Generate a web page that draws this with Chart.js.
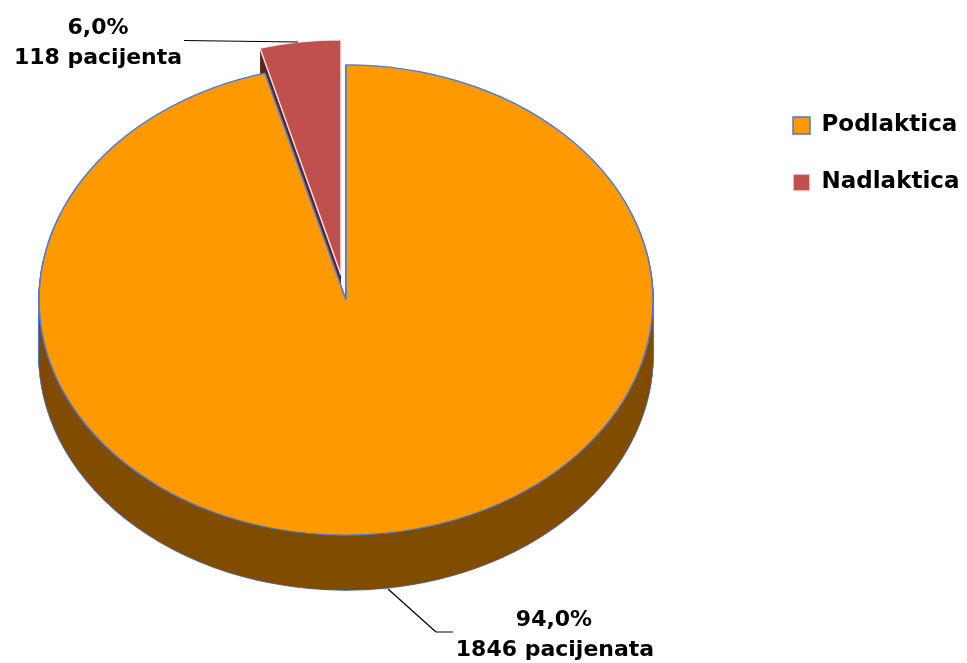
<!DOCTYPE html>
<html>
<head>
<meta charset="utf-8">
<style>
  html, body { margin: 0; padding: 0; background: #ffffff; }
  #wrap { width: 967px; height: 663px; }
</style>
<script src="https://cdn.jsdelivr.net/npm/chart.js@4/dist/chart.umd.js"></script>
</head>
<body>
<div id="wrap"><canvas id="chart_pie" width="967" height="663"></canvas></div>
<script>
/* ------------------
  data
-------------------*/
var categories = ['Podlaktica', 'Nadlaktica'];
var patients = [1846, 118];
var percentLabels = ['94,0%', '6,0%'];
var patientLabels = ['1846 pacijenata', '118 pacijenta'];
// share of the circle as it is drawn in the picture, the red slice is
// narrower there (about 15 degrees) than its 6,0% label says
var drawnShares = [95.75, 4.25];

/* ------------------
  look of the fake 3d pie
-------------------*/
var topColors = ['#ff9900', '#c0504d'];
var sideColors = ['#804d00', '#5a2524'];
var edgeColors = ['#4a78e0', 'rgba(255,240,240,0.9)'];
var pieCenter = { x: 346, y: 300 };
var pieRadius = 307;
var squash = 0.766;
var depth = 55;
var sliceShift = [{ x: 0, y: 0 }, { x: -5, y: -25 }];
var labelFont = 'bold 22px "DejaVu Sans"';

function drawArc(ctx, arc, fill, stroke, width) {
  var saved = arc.options;
  arc.options = Object.assign({}, saved, { backgroundColor: fill, borderColor: stroke, borderWidth: width });
  arc.draw(ctx);
  arc.options = saved;
}

// puts the flat pie on its side, then shifts by screen pixels
function tilt(ctx, arc, shiftX, shiftY) {
  ctx.translate(pieCenter.x + shiftX, pieCenter.y + shiftY);
  ctx.scale(1, squash);
  ctx.translate(-arc.x, -arc.y);
}

var pie3d = {
  id: 'pie3d',
  afterLayout: function (chart) {
    // legend sits where the picture has it
    var legend = chart.legend;
    legend.left = 759;
    legend.right = 967;
    legend.top = 80;
    legend.bottom = 663;
  },
  beforeDatasetsDraw: function (chart) {
    var ctx = chart.ctx;
    var arcs = chart.getDatasetMeta(0).data;
    var d, i;

    // side of the red slice first, the orange pie covers most of it
    for (d = depth; d > 0; d--) {
      ctx.save();
      tilt(ctx, arcs[1], sliceShift[1].x, sliceShift[1].y + d);
      drawArc(ctx, arcs[1], sideColors[1], sideColors[1], 0);
      ctx.restore();
    }

    // blue outline of the orange side, then the brown fill on top of it
    for (d = depth; d > 0; d--) {
      ctx.save();
      tilt(ctx, arcs[0], 0, d);
      drawArc(ctx, arcs[0], edgeColors[0], edgeColors[0], 1.5);
      ctx.restore();
    }
    for (d = depth; d > 0; d--) {
      ctx.save();
      tilt(ctx, arcs[0], 0, d);
      drawArc(ctx, arcs[0], sideColors[0], sideColors[0], 0);
      ctx.restore();
    }

    // top faces
    for (i = 0; i < arcs.length; i++) {
      ctx.save();
      tilt(ctx, arcs[i], sliceShift[i].x, sliceShift[i].y);
      drawArc(ctx, arcs[i], topColors[i], edgeColors[i], 1.5);
      ctx.restore();
    }
    return false;
  },
  afterDraw: function (chart) {
    var ctx = chart.ctx;
    ctx.save();

    // leader lines
    ctx.lineWidth = 1.2;
    ctx.strokeStyle = '#000000';
    ctx.beginPath();
    ctx.moveTo(184, 40.5);
    ctx.lineTo(298, 42);
    ctx.stroke();
    ctx.beginPath();
    ctx.moveTo(388, 589);
    ctx.lineTo(436, 632);
    ctx.stroke();
    ctx.lineWidth = 2;
    ctx.strokeStyle = '#808080';
    ctx.beginPath();
    ctx.moveTo(436, 632);
    ctx.lineTo(453, 632);
    ctx.stroke();

    // data labels
    ctx.fillStyle = '#000000';
    ctx.font = labelFont;
    ctx.textAlign = 'center';
    ctx.textBaseline = 'alphabetic';
    ctx.fillText(percentLabels[1], 98, 34);
    ctx.fillText(patientLabels[1], 98, 64);
    ctx.fillText(percentLabels[0], 554, 626);
    ctx.fillText(patientLabels[0], 555, 656);
    ctx.restore();
  }
};

var chart_pie = new Chart(document.getElementById('chart_pie'), {
  type: 'pie',
  plugins: [pie3d],
  data: {
    labels: categories,
    datasets: [
      {
        label: 'Pacijenti',
        data: drawnShares,
        backgroundColor: topColors,
        borderColor: edgeColors,
        borderWidth: 1.5
      }
    ]
  },
  options: {
    responsive: false,
    animation: false,
    radius: pieRadius,
    plugins: {
      tooltip: { enabled: false },
      legend: {
        position: 'right',
        align: 'start',
        labels: {
          boxWidth: 17,
          boxHeight: 17,
          padding: 34,
          color: '#000000',
          font: { family: 'DejaVu Sans', size: 23, weight: 'bold' }
        }
      }
    }
  }
});
</script>
</body>
</html>
